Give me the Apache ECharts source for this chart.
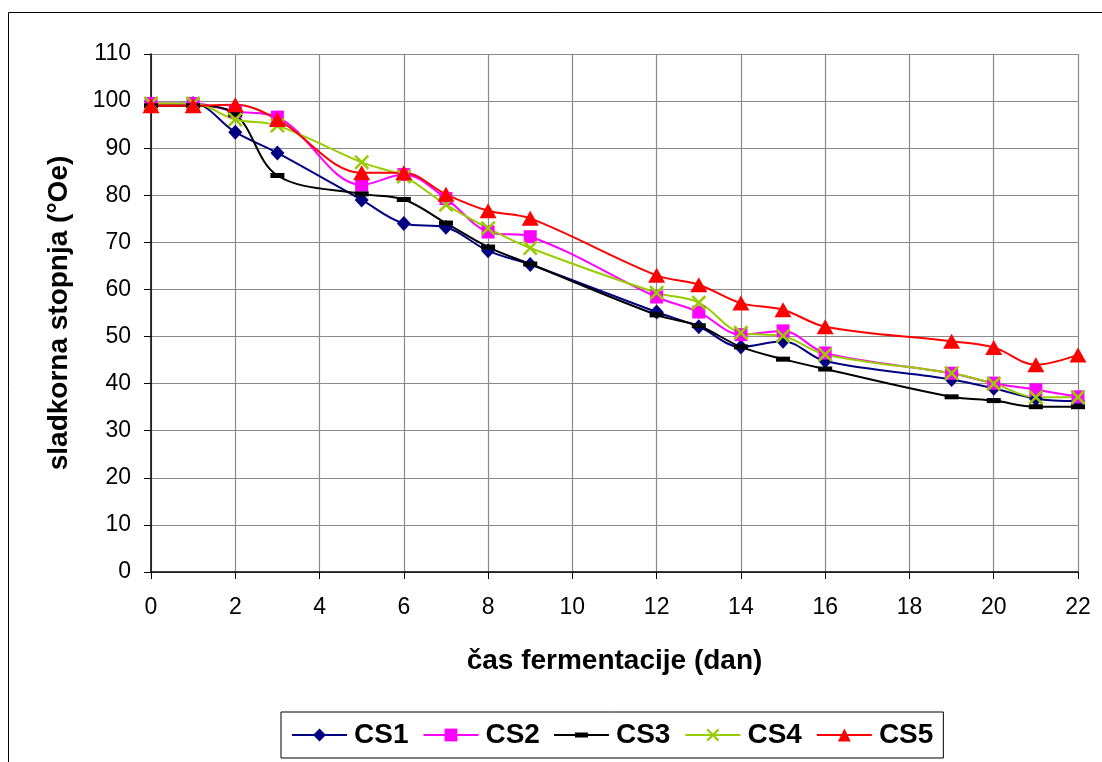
<!DOCTYPE html>
<html>
<head>
<meta charset="utf-8">
<script src="https://cdn.jsdelivr.net/npm/echarts@6/dist/echarts.min.js"></script>
<style>
  html, body { margin: 0; padding: 0; background: #fff; }
  #chart { width: 1102px; height: 762px; }
</style>
</head>
<body>
<div id="chart"></div>
<script>
// Fermentation days and measured sugar degree (°Oe) for five samples
const days = [0, 1, 2, 3, 5, 6, 7, 8, 9, 12, 13, 14, 15, 16, 19, 20, 21, 22];
const cs1 = [99, 99.5, 93.4, 89, 79, 74, 73.2, 68.2, 65.3, 55.2, 52.1, 47.8, 49, 44.8, 40.9, 39, 36.8, 36.3];
const cs2 = [99.5, 99.5, 97.8, 96.6, 82.2, 84.4, 79.3, 72.2, 71.2, 58.4, 55.2, 50.4, 51.2, 46.5, 42.2, 40.1, 38.7, 37.2];
const cs3 = [99, 99, 97.2, 84.2, 80.3, 79.1, 74.1, 69, 65.4, 54.6, 52.3, 47.8, 45.2, 43.1, 37.2, 36.4, 35.1, 35.1];
const cs4 = [99.5, 99.5, 96.1, 94.8, 87, 84, 78, 73, 68.8, 59.3, 57.2, 50.8, 50.1, 46.2, 42.2, 40, 37.1, 37.1];
const cs5 = [99, 99, 99.2, 96.1, 84.8, 84.8, 80.2, 76.7, 75.1, 63, 61, 57.1, 55.7, 52.1, 49, 47.7, 44, 46.1];

const seriesNames = ['CS1', 'CS2', 'CS3', 'CS4', 'CS5'];
const xTicks = { min: 0, max: 22, step: 2 };
const yTicks = { min: 0, max: 110, step: 10 };

const FONT = 'Liberation Sans, Arial, sans-serif';
// marker shapes: a diagonal cross and a flat dash
const CROSS = 'path://M0,1.2L1.2,0L5,3.8L8.8,0L10,1.2L6.2,5L10,8.8L8.8,10L5,6.2L1.2,10L0,8.8L3.8,5Z';
const DASH = 'path://M0,0L14,0L14,5L0,5Z';
// legend key for the dash series: thin line with a flat dash in the middle
const DASH_KEY = 'path://M0,1.6H21V0H34V1.6H55V3.4H34V5H21V3.4H0Z';

function pairs(vals) {
  return days.map((d, i) => [d, vals[i]]);
}

function lineSeries(name, vals, color, symbol, size) {
  return {
    name: name,
    type: 'line',
    data: pairs(vals),
    smooth: 0.35,
    symbol: symbol,
    symbolSize: size,
    symbolKeepAspect: true,
    showAllSymbol: true,
    lineStyle: { color: color, width: 2 },
    itemStyle: { color: color, borderWidth: 0 },
    emphasis: { disabled: true }
  };
}

const legendData = seriesNames.map(n => (n === 'CS3' ? { name: n, icon: DASH_KEY } : { name: n }));

const chart = echarts.init(document.getElementById('chart'), null, { renderer: 'canvas' });

chart.setOption({
  animation: false,
  backgroundColor: '#ffffff',
  textStyle: { fontFamily: FONT },
  graphic: [{
    type: 'rect',
    silent: true,
    shape: { x: 8.5, y: 12.5, width: 1200, height: 800 },
    style: { fill: 'none', stroke: '#000', lineWidth: 1 }
  }],
  grid: { left: 151, right: 24, top: 54, bottom: 190, containLabel: false },
  legend: {
    data: legendData,
    left: 281,
    top: 712,
    orient: 'horizontal',
    padding: [9, 10, 9, 10],
    itemWidth: 55,
    itemHeight: 16,
    itemGap: 14,
    symbolKeepAspect: true,
    borderColor: '#000',
    borderWidth: 1,
    textStyle: { fontFamily: FONT, fontSize: 28, fontWeight: 'bold', color: '#000', padding: [0, 0, 0, 2] }
  },
  xAxis: {
    type: 'value',
    min: xTicks.min,
    max: xTicks.max,
    interval: xTicks.step,
    name: 'čas fermentacije (dan)',
    nameLocation: 'middle',
    nameGap: 75,
    nameTextStyle: { fontFamily: FONT, fontSize: 28, fontWeight: 'bold', color: '#000' },
    axisLine: { show: true, onZero: false, lineStyle: { color: '#000', width: 1.5 } },
    axisTick: { show: true, inside: false, length: 7, lineStyle: { color: '#000', width: 1 } },
    axisLabel: { margin: 24, fontFamily: FONT, fontSize: 23, color: '#000' },
    splitLine: { show: true, lineStyle: { color: '#8a8a8a', width: 1.2 } }
  },
  yAxis: {
    type: 'value',
    min: yTicks.min,
    max: yTicks.max,
    interval: yTicks.step,
    name: 'sladkorna stopnja (°Oe)',
    nameLocation: 'middle',
    nameGap: 78,
    nameTextStyle: { fontFamily: FONT, fontSize: 28, fontWeight: 'bold', color: '#000' },
    axisLine: { show: true, onZero: false, lineStyle: { color: '#000', width: 1.5 } },
    axisTick: { show: true, inside: false, length: 7, lineStyle: { color: '#000', width: 1 } },
    axisLabel: { margin: 20, fontFamily: FONT, fontSize: 23, color: '#000' },
    splitLine: { show: true, lineStyle: { color: '#8a8a8a', width: 1.2 } }
  },
  series: [
    lineSeries('CS1', cs1, '#000080', 'diamond', [14, 15]),
    lineSeries('CS2', cs2, '#ff00ff', 'rect', [13, 13]),
    lineSeries('CS3', cs3, '#000000', DASH, 14),
    lineSeries('CS4', cs4, '#99cc00', CROSS, [15, 15]),
    lineSeries('CS5', cs5, '#ff0000', 'triangle', [17, 15])
  ]
});
</script>
</body>
</html>
